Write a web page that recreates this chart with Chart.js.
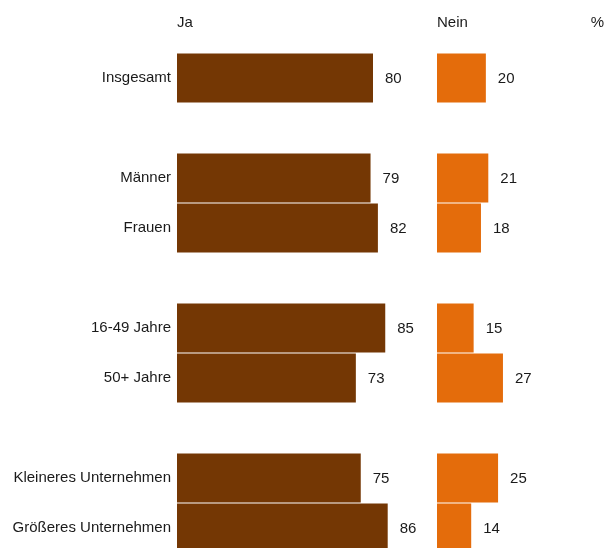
<!DOCTYPE html>
<html>
<head>
<meta charset="utf-8">
<script src="https://cdn.jsdelivr.net/npm/chart.js@4/dist/chart.umd.min.js"></script>
<style>
  html, body { margin: 0; padding: 0; background: #fff; overflow: hidden; width: 608px; height: 548px; }
  canvas { position: absolute; top: 0; }
  #jaChart { left: 0; width: 430px; height: 560px; }
  #neinChart { left: 430px; width: 178px; height: 560px; }
</style>
</head>
<body>
<canvas id="jaChart" width="430" height="560"></canvas>
<canvas id="neinChart" width="178" height="560"></canvas>
<script>
// empty labels leave a blank row between the groups
var categories = ['Insgesamt', '', 'Männer', 'Frauen', '', '16-49 Jahre', '50+ Jahre', '', 'Kleineres Unternehmen', 'Größeres Unternehmen'];
var jaValues   = [80, null, 79, 82, null, 85, 73, null, 75, 86];
var neinValues = [20, null, 21, 18, null, 15, 27, null, 25, 14];

var FONT = { family: '"Liberation Sans", Arial, sans-serif', size: 15 };
var TEXT = '#1a1a1a';

// writes the number just right of each bar, plus the column heading
function labelPlugin(title, extra) {
    return {
        id: 'labels',
        afterDatasetsDraw: function(chart) {
            var ctx = chart.ctx;
            var ds = chart.data.datasets[0];
            ctx.save();
            ctx.font = FONT.size + 'px ' + FONT.family;
            ctx.fillStyle = TEXT;
            ctx.textBaseline = 'middle';
            ctx.textAlign = 'left';
            chart.getDatasetMeta(0).data.forEach(function(bar, i) {
                if (ds.data[i] == null) return;
                ctx.fillText(ds.data[i], bar.x + 12, bar.y + 1);
            });
            ctx.fillText(title, chart.chartArea.left, 23);
            if (extra) {
                ctx.textAlign = 'right';
                ctx.fillText(extra, chart.width - 4, 23);
            }
            ctx.restore();
        }
    };
}

function makeChart(id, values, color, max, showLabels, pad, title, extra) {
    var yScale = {
        display: showLabels,
        grid: { display: false, drawTicks: false },
        border: { display: false },
        ticks: { color: TEXT, font: FONT, padding: 6, autoSkip: false }
    };
    if (showLabels) {
        // fixed label column; no extra room above/below for the labels
        yScale.afterFit = function(s) {
            s.width = 177;
            s.paddingTop = 0;
            s.paddingBottom = 0;
        };
    }
    return new Chart(document.getElementById(id).getContext('2d'), {
        type: 'bar',
        data: {
            labels: categories,
            datasets: [{
                data: values,
                backgroundColor: color,
                barPercentage: 0.98,
                categoryPercentage: 1.0
            }]
        },
        options: {
            indexAxis: 'y',
            responsive: false,
            maintainAspectRatio: false,
            animation: false,
            layout: { padding: pad },
            plugins: { legend: { display: false }, tooltip: { enabled: false } },
            scales: {
                x: { display: false, min: 0, max: max },
                y: yScale
            }
        },
        plugins: [labelPlugin(title, extra)]
    });
}

makeChart('jaChart', jaValues, '#743704', 100, true,
    { top: 53, bottom: 7, left: 0, right: 8 }, 'Ja');
makeChart('neinChart', neinValues, '#e46c0b', 70, false,
    { top: 53, bottom: 7, left: 7, right: 0 }, 'Nein', '%');
</script>
</body>
</html>
